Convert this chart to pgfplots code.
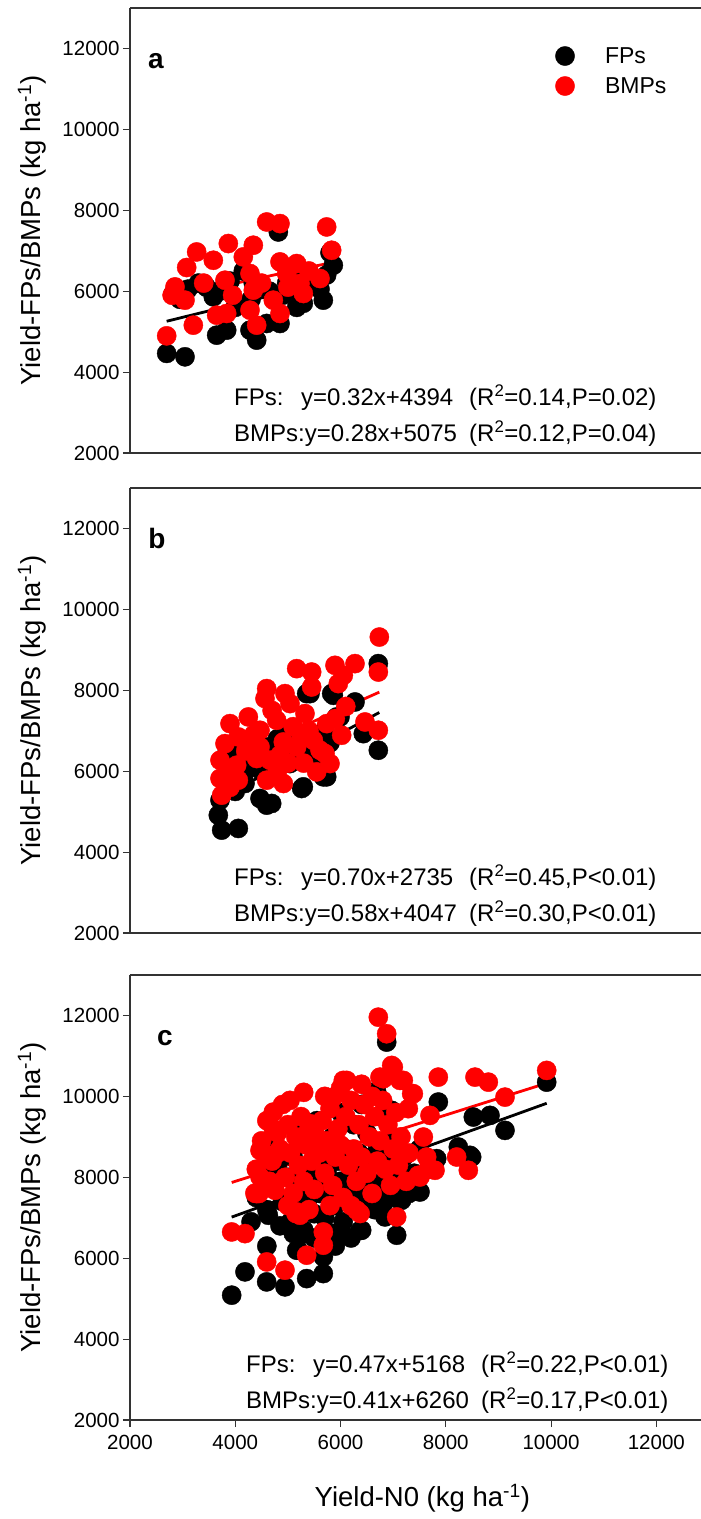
\documentclass[border=0pt]{standalone}
\usepackage{fontspec}
\setmainfont{Liberation Sans}
\usepackage{pgfplots}
\pgfplotsset{compat=1.18}

\pgfplotsset{
 panel/.style={
  scale only axis, width=571pt, height=445pt,
  xmin=2000, xmax=12849, ymin=2000, ymax=13000,
  axis x line*=box, axis y line*=left,
  axis line style={-, black!80, line width=1.1pt},
  tick align=outside, tick pos=left,
  ytick={2000,4000,...,12000},
  scaled ticks=false,
  major tick length=7pt,
  tick style={black!80, line width=1.1pt},
  tick label style={font=\fontsize{20.5}{24}\selectfont},
  xticklabel style={yshift=-5pt},
  /pgf/number format/assume math mode=true,
  /pgf/number format/1000 sep={},
  ylabel={\fontsize{27.5}{30}\selectfont Yield-FPs/BMPs (kg ha\textsuperscript{-1})},
  ylabel style={at={(axis description cs:-0.172,0.5)}, anchor=center},
 },
 fp/.style={only marks, mark=*, mark size=9.6pt, black, mark options={fill=black, draw=black}},
 bmp/.style={only marks, mark=*, mark size=9.6pt, red, mark options={fill=red, draw=red}},
 fpl/.style={black, line width=2.8pt, no marks},
 bmpl/.style={red, line width=2.8pt, no marks},
}
\tikzset{
 eq/.style={anchor=base west, inner sep=0pt, font=\fontsize{24}{28}\selectfont},
 lab/.style={anchor=base, inner sep=0pt, font=\fontsize{28}{30}\selectfont\bfseries},
}

\begin{document}
\begin{tikzpicture}
\path[use as bounding box] (0pt,0pt) rectangle (701pt,-1519pt);

% ---------------- panel a
\begin{axis}[panel, at={(130pt,-453pt)}, anchor=south west, xtick=\empty,
  legend style={at={(axis description cs:0.744,0.915)}, anchor=north west, draw=none, fill=none,
    inner sep=0pt, row sep=10pt, font=\fontsize{23}{26}\selectfont, nodes={inner sep=0pt}},
  legend cell align=left,
  legend image code/.code={\draw[#1] plot coordinates {(0pt,0pt)}; \path[draw=none,fill=none] (-10pt,-10pt) rectangle (40pt,10pt);}]
\addplot[fp] coordinates {
(2697,4462) (3045,4378) (2823,5943) (2950,5800) (3100,6050) (3300,6200) (3450,6100)
(3583,5860) (3647,4913) (3837,5037) (3700,6000) (3900,6250) (4000,5600) (4153,6500)
(4280,5037) (4300,5800) (4343,6200) (4407,4790) (4597,5202) (4650,6000) (4818,7464)
(4850,5202) (4900,5900) (4977,6200) (5100,6350) (5167,5600) (5230,5900) (5293,5700)
(5450,6300) (5610,6050) (5673,5778) (5737,6400) (5800,6950) (5863,6641)};
\addlegendentry{FPs}
\addplot[bmp] coordinates {
(2697,4896) (2855,6106) (3077,6585) (3267,6970) (3045,5778) (3203,5160) (3583,6765)
(3868,7178) (3805,6271) (3647,5407) (3837,5449) (4153,6847) (4343,7136) (4280,6437)
(4343,6025) (4280,5531) (4407,5160) (4597,7711) (4850,7671) (4850,6724) (4977,6437)
(4723,5778) (4850,5449) (5167,6683) (5230,6190) (5293,5943) (5610,6313) (5737,7588)
(5832,7012) (2800,5900) (3400,6200) (3950,5900) (4500,6200) (5000,6100) (5400,6500)};
\addlegendentry{BMPs}
\addplot[fpl, forget plot] coordinates {(2697,5257) (5863,6270)};
\addplot[bmpl, forget plot] coordinates {(2697,5830) (5832,6708)};
\node[lab] at (axis cs:2494,11506) {a};
\node[eq] at (axis cs:3976,3165) {FPs:};
\node[eq] at (axis cs:5249,3165) {y=0.32x+4394};
\node[eq] at (axis cs:8441,3165) {(R\textsuperscript{2}=0.14,P=0.02)};
\node[eq] at (axis cs:3976,2275) {BMPs:y=0.28x+5075};
\node[eq] at (axis cs:8441,2275) {(R\textsuperscript{2}=0.12,P=0.04)};
\end{axis}

% ---------------- panel b
\begin{axis}[panel, at={(130pt,-933pt)}, anchor=south west, xtick=\empty]
\addplot[fp] coordinates {
(3710,5284) (3678,4913) (3742,4543) (4058,4585) (4470,5326) (4597,5160) (5262,5572)
(4185,5696) (4787,6106) (5040,6189) (5357,7918) (5832,7918) (5927,7341) (5673,5860)
(6718,8659) (6718,6518) (6433,6928) (6275,7711) (5863,7876) (5420,7918) (5990,7341)
(5293,5613) (4692,5202) (5737,5860) (3800,5800) (3900,6200) (4000,5500) (4200,6000)
(4300,6400) (4500,6000) (4600,6600) (4800,6800) (4900,6500) (5000,7000) (5100,6800)
(5200,6400) (5300,6600) (5500,6300) (5600,6900) (5700,7000) (5800,6700) (4400,6800)
(4100,6600) (3850,6500)};
\addplot[bmp] coordinates {
(5167,8535) (5452,8451) (5895,8617) (6053,8370) (5452,8081) (4597,8042) (4565,7795)
(4945,7918) (5040,7671) (5325,7424) (5737,7176) (6022,6889) (3900,7176) (4248,7341)
(3805,6682) (4058,6847) (4470,7012) (4787,7259) (4470,6600) (4913,6723) (5167,6600)
(5483,6765) (5610,6518) (5800,6189) (5547,5983) (3710,6271) (4027,6148) (3710,5820)
(4058,5778) (3742,5407) (4407,6313) (4660,6271) (4597,5778) (4913,5696) (6737,9316)
(6275,8659) (6718,8451) (5958,8165) (6465,7217) (6718,7012) (5705,6437) (4200,6500)
(4350,6900) (4700,7500) (4850,6400) (5100,7100) (5250,6900) (5400,7000) (5000,6200)
(4800,6000) (5300,6200) (3850,6000) (3900,5600) (5900,7300) (6100,7600)};
\addplot[fpl] coordinates {(3678,5310) (6737,7451)};
\addplot[bmpl] coordinates {(3710,6199) (6737,7954)};
\node[lab] at (axis cs:2513,11506) {b};
\node[eq] at (axis cs:3976,3165) {FPs:};
\node[eq] at (axis cs:5249,3165) {y=0.70x+2735};
\node[eq] at (axis cs:8441,3165) {(R\textsuperscript{2}=0.45,P<0.01)};
\node[eq] at (axis cs:3976,2275) {BMPs:y=0.58x+4047};
\node[eq] at (axis cs:8441,2275) {(R\textsuperscript{2}=0.30,P<0.01)};
\end{axis}

% ---------------- panel c
\begin{axis}[panel, at={(130pt,-1420pt)}, anchor=south west,
  xtick={2000,4000,...,12000},
  xlabel={\fontsize{27.5}{30}\selectfont Yield-N0 (kg ha\textsuperscript{-1})},
  xlabel style={at={(axis description cs:0.512,-0.175)}, anchor=center}]
\addplot[fp] coordinates {
(9917,10352) (9125,9160) (8840,9531) (8523,9489) (7858,9860) (8460,8543) (7067,6568)
(6402,6691) (7510,7637) (7130,7967) (6972,9654) (7162,7432) (6845,7020) (6877,11342)
(6687,10107) (8238,8748) (8492,8501) (7827,8461) (6813,7350) (3932,5086) (4185,5662)
(4597,5414) (4945,5291) (5357,5496) (5673,5620) (5673,6032) (5167,6197) (5103,6608)
(4628,7062) (5863,6608) (4723,8831) (6034,6603) (6373,6686) (5288,6603) (7119,7439)
(7492,7649) (7186,7941) (4542,8192)
(4400,7500) (4500,8100) (4600,7200) (4700,7800) (4800,8300) (4850,6800) (4900,7400)
(5000,8000) (5050,6900) (5100,8500) (5200,7300) (5250,7900) (5300,6700) (5350,8200)
(5400,7500) (5450,8800) (5500,7100) (5550,8000) (5600,7600) (5650,8600) (5700,7000)
(5750,8200) (5800,7700) (5850,9000) (5900,7300) (5950,8400) (6000,7900) (6050,6900)
(6100,8700) (6150,7500) (6200,8200) (6250,9300) (6300,7700) (6350,8600) (6400,7300)
(6450,8000) (6500,9100) (6550,7800) (6600,8500) (6650,7200) (6700,8800) (6750,9500)
(6800,7900) (6850,8400) (6900,7600) (6950,9000) (7000,8200) (7100,7900) (7200,8500)
(7300,7600) (7400,8100) (7500,8700) (4300,6900) (4600,6300) (5200,6200) (5500,6500)
(5900,6300) (6200,6500) (4750,9000) (5150,9200) (5550,9400) (6000,9600) (6400,9800)
(6600,10100)};
\addplot[bmp] coordinates {
(9917,10642) (9125,9982) (8808,10352) (8555,10476) (7858,10476) (7700,9531) (7573,8995)
(8428,8173) (8207,8501) (7795,8173) (7478,8049) (7067,7020) (6972,10765) (6750,10476)
(7130,10395) (7352,10066) (7288,9696) (7637,8501) (6718,11958) (6877,11548) (7003,10724)
(6813,10436) (7193,10395) (7383,10066) (7510,8008) (6307,7185) (6117,10395) (6053,10395)
(5040,9901) (4723,9612) (4723,9201) (4470,8666) (4787,8584) (5863,9982) (4407,7597)
(4755,7679) (5167,7143) (5673,6649) (3932,6649) (4185,6608) (4470,8008) (5420,9325)
(4597,5908) (4945,5704) (5357,6074) (5673,6321) (5230,7062) (5153,7105) (6373,7105)
(4373,7607) (7661,8192)
(4400,8200) (4500,8900) (4600,9400) (4650,7900) (4700,8400) (4800,9100) (4850,8700)
(4900,9800) (4950,8000) (5000,9300) (5050,8600) (5100,7600) (5150,9000) (5200,8300)
(5250,9500) (5300,7900) (5350,8800) (5400,9200) (5450,8400) (5500,7700) (5550,9000)
(5600,8600) (5650,9400) (5700,8100) (5750,8900) (5800,9700) (5850,7800) (5900,8500)
(5950,9200) (6000,8800) (6050,7500) (6100,9500) (6150,8300) (6200,9900) (6250,8700)
(6300,7900) (6350,9300) (6400,8500) (6450,9800) (6500,8100) (6550,9000) (6600,7600)
(6650,9500) (6700,8400) (6750,8900) (6800,9900) (6850,8200) (6900,9300) (6950,7800)
(7000,8700) (7050,9600) (7100,8300) (7150,9000) (7250,7900) (7300,8600) (5000,7300)
(5400,7200) (5800,7300) (6200,7300) (4450,7600) (4550,8600) (5700,10000) (6000,10200)
(6400,10300) (6600,10000) (5300,10100)};
\addplot[fpl] coordinates {(3932,7016) (9917,9829)};
\addplot[bmpl] coordinates {(3932,7872) (9917,10326)};
\node[lab] at (axis cs:2665,11259) {c};
\node[eq] at (axis cs:4204,3165) {FPs:};
\node[eq] at (axis cs:5477,3165) {y=0.47x+5168};
\node[eq] at (axis cs:8669,3165) {(R\textsuperscript{2}=0.22,P<0.01)};
\node[eq] at (axis cs:4204,2275) {BMPs:y=0.41x+6260};
\node[eq] at (axis cs:8669,2275) {(R\textsuperscript{2}=0.17,P<0.01)};
\end{axis}
\end{tikzpicture}
\end{document}
